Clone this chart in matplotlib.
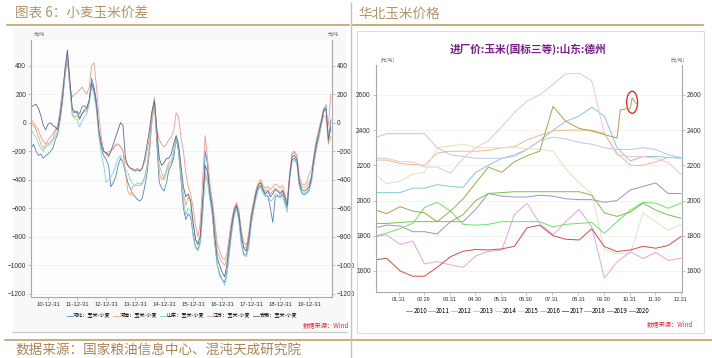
import numpy as np, pandas as pd, matplotlib
matplotlib.use("Agg")
import matplotlib.pyplot as plt
import matplotlib.dates as mdates
from matplotlib.patches import Rectangle, Ellipse
from matplotlib.lines import Line2D

# ---------------- data: left panel (monthly, 2010-06 .. 2020-10) ----------------
spread_start = "2010-06-01"
hebei = [-180, -150, -200, -230, -220, -250, -230,
         -220, -200, -180, -120, -80, 20, 150, 340, 490, 280, 80, 70,
         80, 60, 110, 120, 100, 150, 310, 250, 150, -80, -180, -230,
         -260, -300, -450, -420, -380, -300, -250, -280, -350, -420, -460, -500,
         -520, -540, -550, -530, -450, -350, -200, 50, 170, -150, -420, -460,
         -480, -420, -330, -300, -250, -110, -200, -400, -600, -680, -640, -660,
         -780, -870, -890, -830, -600, -200, -300, -520, -650, -850, -1000, -1060,
         -1100, -1120, -1050, -900, -760, -640, -590, -680, -850, -920, -930, -860,
         -700, -600, -520, -460, -440, -480, -510, -520, -600, -700, -520, -510,
         -520, -500, -550, -600, -390, -260, -250, -280, -440, -490, -500, -490,
         -470, -400, -280, -170, -100, 0, 90, 120, -130, 20]
henan = [0, -20, -50, -100, -150, -180, -150,
         -150, -130, -120, -60, -40, 60, 200, 330, 430, 250, 60, 40,
         50, 20, 60, 80, 80, 150, 270, 220, 130, -60, -150, -200,
         -220, -200, -200, -180, -160, -150, -170, -200, -350, -480, -510, -450,
         -440, -440, -440, -430, -380, -300, -200, 0, 120, -100, -350, -400,
         -380, -320, -280, -270, -200, -100, -160, -350, -500, -580, -520, -560,
         -700, -820, -860, -780, -550, -350, -400, -480, -580, -750, -900, -950,
         -980, -1000, -960, -850, -700, -600, -570, -640, -780, -870, -880, -800,
         -650, -560, -480, -420, -400, -440, -460, -450, -470, -450, -430, -440,
         -460, -440, -500, -560, -360, -220, -210, -240, -400, -450, -460, -450,
         -420, -380, -260, -150, -90, -20, 50, 40, -150, -100]
shandong = [-50, -80, -100, -150, -180, -200, -170,
            -160, -150, -120, -100, -60, 40, 160, 320, 470, 260, 50, 30,
            20, -30, 10, 40, 60, 130, 250, 200, 80, -100, -220, -300,
            -420, -400, -380, -350, -300, -250, -230, -280, -330, -350, -400, -430,
            -440, -420, -430, -420, -380, -300, -150, 60, 180, -50, -300, -350,
            -400, -350, -300, -280, -220, -120, -180, -380, -550, -650, -600, -620,
            -800, -880, -900, -850, -650, -380, -420, -550, -650, -850, -1000, -1080,
            -1100, -1140, -1080, -920, -780, -660, -600, -700, -860, -930, -940, -880,
            -720, -620, -540, -470, -450, -500, -520, -510, -550, -540, -500, -520,
            -530, -510, -570, -630, -400, -270, -260, -290, -450, -500, -510, -500,
            -480, -420, -300, -200, -120, -30, 60, 130, -100, -50]
jiangsu = [20, 0, -30, -50, -100, -130, -150,
           -120, -100, -80, -50, -20, 100, 230, 360, 460, 250, 180, 200,
           210, 230, 250, 220, 200, 250, 400, 420, 250, 50, -100, -200,
           -220, -240, -200, -180, -150, -150, -170, -200, -280, -300, -320, -320,
           -330, -320, -340, -310, -280, -200, -100, 60, 160, -50, -120, -150,
           -170, -150, -120, -100, -60, 70, 40, -100, -200, -350, -450, -500,
           -600, -720, -800, -700, -400, -90, -250, -430, -550, -700, -850, -900,
           -950, -960, -920, -800, -680, -600, -560, -620, -760, -840, -860, -780,
           -640, -560, -480, -430, -420, -460, -480, -470, -500, -480, -460, -470,
           -490, -470, -510, -560, -360, -210, -200, -230, -380, -430, -440, -420,
           -360, -330, -230, -120, -50, 20, 100, 90, -20, 200]
anhui = [110, 120, 130, 100, 50, -20, -50,
         -10, 0, -20, -30, -50, 50, 180, 380, 510, 300, 100, 80,
         70, 30, 60, 90, 100, 160, 280, 230, 120, -50, -150, -200,
         -210, -230, -200, -150, -100, -50, 0, -20, -250, -300, -320, -330,
         -340, -330, -340, -320, -250, -150, -50, 80, 150, -50, -250, -300,
         -280, -250, -250, -220, -150, -90, -150, -300, -450, -520, -500, -550,
         -700, -820, -850, -800, -550, -300, -350, -500, -600, -800, -950, -1000,
         -1050, -1080, -1000, -850, -720, -620, -580, -650, -800, -880, -900, -820,
         -680, -580, -500, -440, -420, -470, -500, -480, -520, -500, -470, -480,
         -500, -480, -520, -580, -380, -240, -230, -260, -420, -470, -480, -470,
         -450, -380, -250, -150, -80, 0, 80, 100, -120, -30]
spread_names = ["河北：玉米-小麦", "河南：玉米-小麦", "山东：玉米-小麦", "江苏：玉米-小麦", "安徽：玉米-小麦"]
spread_colors = ["#4f87bb", "#f2a55e", "#7fd0d8", "#e79b98", "#5b6797"]
left_xticks = ["2010-12-31", "2011-12-31", "2012-12-31", "2013-12-31", "2014-12-31",
               "2015-12-31", "2016-12-31", "2017-12-31", "2018-12-31", "2019-12-31"]

# ---------------- data: right panel (Dezhou corn, half-monthly) ----------------
half_month = ["01-01", "01-16", "02-01", "02-16", "03-01", "03-16", "04-01", "04-16",
              "05-01", "05-16", "06-01", "06-16", "07-01", "07-16", "08-01", "08-16",
              "09-01", "09-16", "10-01", "10-16", "11-01", "11-16", "12-01", "12-16", "12-31"]
y2010 = [1842, 1861, 1855, 1823, 1823, 1810, 1880, 1880, 1950, 2040, 2025, 2020, 2020,
         2030, 2025, 2010, 2005, 2005, 1990, 2000, 2060, 2080, 2100, 2040, 2040]
y2011 = [2045, 2045, 2045, 2070, 2070, 2090, 2080, 2075, 2160, 2200, 2240, 2260, 2290,
         2340, 2400, 2450, 2480, 2530, 2480, 2300, 2225, 2250, 2250, 2245, 2240]
y2012 = [2230, 2230, 2210, 2205, 2200, 2270, 2280, 2280, 2280, 2285, 2300, 2305, 2345,
         2370, 2395, 2400, 2400, 2400, 2380, 2270, 2200, 2200, 2220, 2245, 2245]
y2013 = [2355, 2380, 2380, 2380, 2380, 2300, 2260, 2250, 2240, 2240, 2240, 2250, 2290,
         2340, 2360, 2350, 2330, 2320, 2300, 2290, 2290, 2300, 2290, 2260, 2245]
y2014 = [2240, 2240, 2220, 2220, 2190, 2190, 2155, 2240, 2300, 2340, 2420, 2500, 2565,
         2600, 2660, 2720, 2723, 2680, 2380, 2260, 2250, 2250, 2240, 2215, 2150]
y2015 = [2155, 2095, 2110, 2150, 2160, 2300, 2310, 2320, 2300, 2300, 2300, 2300, 2295,
         2290, 2280, 2180, 2100, 2040, 1720, 1700, 1700, 1930, 1880, 1830, 1865]
y2016 = [1795, 1805, 1750, 1770, 1640, 1653, 1634, 1620, 1685, 1710, 1719, 1920, 1985,
         1870, 1805, 1880, 1950, 1850, 1560, 1650, 1710, 1670, 1705, 1660, 1672]
y2017 = [1662, 1672, 1600, 1570, 1570, 1620, 1681, 1712, 1722, 1719, 1725, 1740, 1845,
         1860, 1800, 1780, 1776, 1840, 1738, 1710, 1719, 1740, 1729, 1745, 1795]
y2018 = [1795, 1815, 1840, 1870, 1960, 1990, 1940, 1865, 1860, 1865, 1880, 1880, 1880,
         1880, 1850, 1865, 1870, 1875, 1814, 1880, 1946, 1990, 1985, 1956, 1985]
y2019 = [1870, 1870, 1875, 1880, 1880, 1880, 1880, 1920, 2000, 2040, 2045, 2050, 2050,
         2050, 2050, 2050, 2050, 2030, 1930, 1910, 1935, 1985, 1946, 1918, 1900]
days2020 = half_month[:20] + ["10-20", "11-01", "11-03", "11-08"]
y2020 = [1950, 1925, 1965, 1940, 1930, 1880, 1940, 2010, 2100, 2190, 2160, 2220,
         2255, 2280, 2535, 2450, 2410, 2395, 2375, 2355, 2515, 2525, 2583, 2550]
years = ["2010", "2011", "2012", "2013", "2014", "2015", "2016", "2017", "2018", "2019", "2020"]
year_colors = ["#9c92c6", "#86c9dc", "#f3b887", "#bcc6e6", "#efc2d6", "#e2e2c0",
               "#e6a3e6", "#d64a4a", "#6ee06a", "#76c24c", "#a5a54a"]
right_xticks = ["01.31", "02.29", "03.31", "04.30", "05.31", "06.30",
                "07.31", "08.31", "09.30", "10.31", "11.30", "12.31"]

# ---------------- layout ----------------
W, H = 712, 358
CJK = ["Noto Sans CJK SC", "DejaVu Sans"]
NUM = ["Liberation Sans", "DejaVu Sans"]
plt.rcParams["font.family"] = CJK
GOLD = "#b9975c"
TXT = "#333333"

fig = plt.figure(figsize=(W / 100, H / 100), dpi=100)

def fx(x): return x / W
def fy(y): return 1 - y / H

def hline(y, x0, x1, c, lw):
    fig.add_artist(Line2D([fx(x0), fx(x1)], [fy(y), fy(y)], color=c, lw=lw))

def vline(x, y0, y1, c, lw):
    fig.add_artist(Line2D([fx(x), fx(x)], [fy(y0), fy(y1)], color=c, lw=lw))

def px_axes(x0, y0, x1, y1):
    return fig.add_axes([fx(x0), fy(y1), (x1 - x0) / W, (y1 - y0) / H])

fig.add_artist(Rectangle((fx(13), fy(333)), 333 / W, 305 / H, transform=fig.transFigure,
                         facecolor="#f8f8f8", edgecolor="none", zorder=-5))
fig.add_artist(Rectangle((fx(357), fy(333)), 347 / W, 302 / H, transform=fig.transFigure,
                         facecolor="white", edgecolor="#dcdcdc", lw=0.8, zorder=-5))
hline(24.5, 7, 349, GOLD, 1.1)
hline(24.5, 352, 703, GOLD, 1.1)
hline(339.5, 5, 712, GOLD, 1.1)
hline(331.5, 12, 347, "#c9c9c9", 0.9)
vline(350.5, 3, 358, "#d3c19c", 1.0)

fig.text(fx(15), fy(14), "图表 6：小麦玉米价差", fontsize=9.8, color="#b39466", va="center")
fig.text(fx(358), fy(14), "华北玉米价格", fontsize=9.8, color="#b39466", va="center")
fig.text(fx(15), fy(350), "数据来源：国家粮油信息中心、混沌天成研究院", fontsize=9.8,
         color="#a8865a", va="center")


def style_axes(ax, ylim, yticks, xsize, ysize):
    ax.set_ylim(*ylim)
    ax.set_yticks(yticks)
    ax.grid(axis="y", color="#efefef", lw=0.5)
    ax.set_axisbelow(True)
    ax.spines["top"].set_visible(False)
    for s in ("left", "right", "bottom"):
        ax.spines[s].set_color("#a8a8a8")
        ax.spines[s].set_linewidth(0.8)
    ax.tick_params(axis="both", length=2, width=0.5, color="#a8a8a8",
                   labelcolor=TXT, pad=1.5)
    ax.tick_params(axis="x", labelsize=xsize)
    ax.tick_params(axis="y", right=True, labelright=True, labelsize=ysize)
    for lab in ax.get_xticklabels() + ax.get_yticklabels():
        lab.set_family(NUM)


# ---------------- left chart ----------------
axl = px_axes(31, 40, 332, 296.7)
axl.set_facecolor("#fdfdfd")
mdates_l = pd.date_range(spread_start, periods=len(hebei), freq="MS")
for vals, name, col in zip([hebei, henan, shandong, jiangsu, anhui], spread_names, spread_colors):
    axl.plot(mdates_l, vals, color=col, lw=0.6, label=name)
axl.set_xlim(pd.Timestamp("2010-05-30"), pd.Timestamp("2020-10-16"))
xt = pd.to_datetime(left_xticks)
axl.set_xticks(xt)
axl.set_xticklabels([d.strftime("%y-%m-%d") for d in xt])
style_axes(axl, (-1221, 580), np.arange(-1200, 401, 200), 4.2, 4.7)
axl.text(0.008, 1.01, "元/吨", transform=axl.transAxes, fontsize=3.3, color="#666", va="bottom")
axl.text(0.985, 1.01, "元/吨", transform=axl.transAxes, fontsize=3.3, color="#666", va="bottom")
axl.legend(loc="center", bbox_to_anchor=(fx(182), fy(316)), bbox_transform=fig.transFigure,
           ncol=5, frameon=False, fontsize=3.7, handlelength=1.1, handletextpad=0.15,
           columnspacing=0.5, borderpad=0)
fig.text(fx(326), fy(325.5), "数据来源：Wind", fontsize=4.5, color="#e03030",
         style="italic", ha="center", va="center")

# ---------------- right chart ----------------
axr = px_axes(375.7, 65, 681.7, 291.7)
base = pd.to_datetime(["2000-" + d for d in half_month])
series = [y2010, y2011, y2012, y2013, y2014, y2015, y2016, y2017, y2018, y2019]
for vals, yr, col in zip(series, years[:-1], year_colors[:-1]):
    axr.plot(base, vals, color=col, lw=0.7, label=yr)
d20 = pd.to_datetime(["2000-" + d for d in days2020])
axr.plot(d20, y2020, color=year_colors[-1], lw=0.7, label=years[-1])
axr.set_xlim(pd.Timestamp("2000-01-03"), pd.Timestamp("2001-01-01"))
rt = pd.to_datetime(["2000-" + t.replace(".", "-") for t in right_xticks])
axr.set_xticks(rt)
axr.set_xticklabels(right_xticks)
style_axes(axr, (1482, 2770), np.arange(1600, 2601, 200), 4.0, 4.8)
axr.add_patch(Ellipse((mdates.date2num(d20[-2]), y2020[-2] - 25), 13, 125,
                      fill=False, edgecolor="#e02020", lw=0.9))
axr.text(0.015, 1.01, "(元/吨)", transform=axr.transAxes, fontsize=3.3, color="#666", va="bottom")
axr.text(0.965, 1.01, "(元/吨)", transform=axr.transAxes, fontsize=3.3, color="#666", va="bottom")
fig.text(fx(528), fy(49), "进厂价:玉米(国标三等):山东:德州", fontsize=7.7, color="#7a1d8c",
         fontweight="bold", ha="center", va="center")
axr.legend(loc="center", bbox_to_anchor=(fx(528), fy(311)), bbox_transform=fig.transFigure,
           ncol=11, frameon=False, fontsize=4.5, handlelength=1.0, handletextpad=0.15,
           columnspacing=0.2, borderpad=0)
fig.text(fx(670), fy(324), "数据来源：Wind", fontsize=4.5, color="#e03030",
         style="italic", ha="center", va="center")

fig.savefig("out.png", dpi=100, facecolor="white")
